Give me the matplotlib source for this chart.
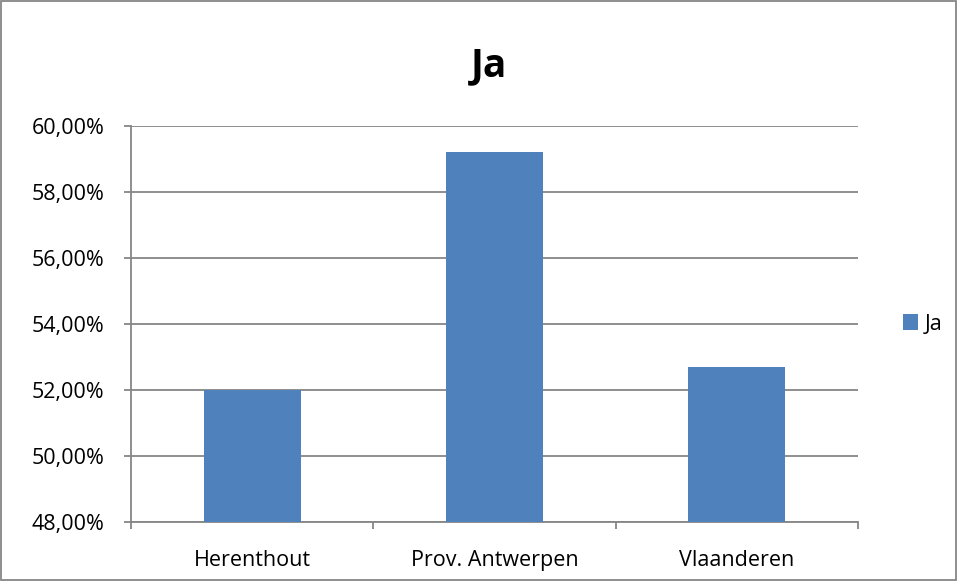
import matplotlib
matplotlib.use('Agg')
import matplotlib.pyplot as plt
from matplotlib.patches import Rectangle

categories = ["Herenthout", "Prov. Antwerpen", "Vlaanderen"]
ja_values = [52.0, 59.2, 52.7]
y_ticks = [48, 50, 52, 54, 56, 58, 60]
y_labels = ["48,00%", "50,00%", "52,00%", "54,00%", "56,00%", "58,00%", "60,00%"]

plt.rcParams['font.family'] = ['Open Sans', 'DejaVu Sans']

fig = plt.figure(figsize=(9.58, 5.81), dpi=100)
ax = fig.add_axes([131/958, 1 - 522/581, 727/958, 396/581])

grid_color = '#868686'
x = list(range(len(categories)))
ax.bar(x, ja_values, width=0.4, color='#4F81BD', label='Ja', zorder=3)

ax.set_ylim(48, 60)
ax.set_xlim(-0.5, 2.5)
ax.set_yticks(y_ticks)
ax.set_yticklabels(y_labels, fontsize=15.5)
ax.yaxis.grid(True, color=grid_color, linewidth=1.3, zorder=0)

ax.set_xticks(x)
ax.set_xticklabels(categories, fontsize=15.5)
ax.tick_params(axis='x', which='major', length=0, pad=20)
ax.set_xticks([-0.5, 0.5, 1.5, 2.5], minor=True)
ax.tick_params(axis='x', which='minor', length=5, color=grid_color, width=1.3)
ax.tick_params(axis='y', length=5, color=grid_color, width=1.3, pad=14)

for side in ['top', 'right']:
    ax.spines[side].set_visible(False)
for side in ['left', 'bottom']:
    ax.spines[side].set_color(grid_color)
    ax.spines[side].set_linewidth(1.3)

fig.text(489/958, 1 - 66/581, "Ja", fontsize=28, fontweight='bold', ha='center', va='center')

ax.legend(loc='center left', bbox_to_anchor=(1.035, 0.5), frameon=False,
          fontsize=15.5, handlelength=0.7, handleheight=0.7, handletextpad=0.3)

# outer border of the chart
fig.patches.append(Rectangle((0.001, 0.002), 0.997, 0.996, transform=fig.transFigure,
                             fill=False, edgecolor='#868686', linewidth=1.3))

fig.savefig('out.png', dpi=100)
